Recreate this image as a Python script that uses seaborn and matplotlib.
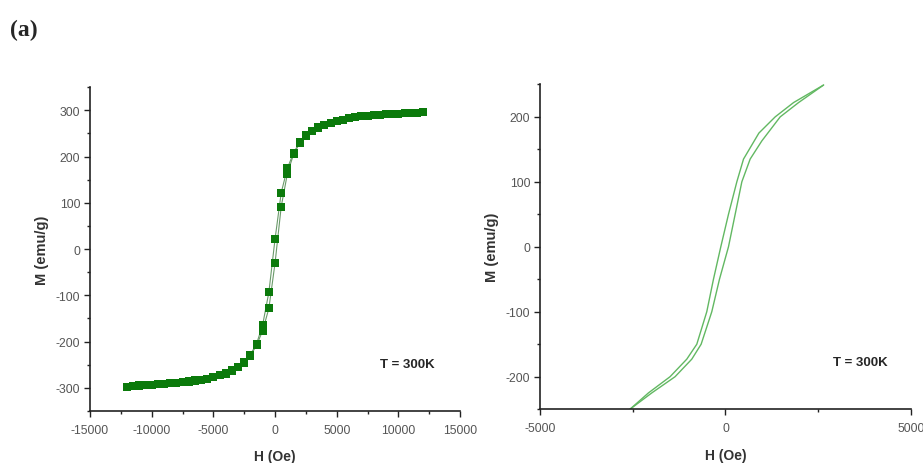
import numpy as np
import pandas as pd
import matplotlib.pyplot as plt
from matplotlib.ticker import MultipleLocator
import seaborn as sns

# full loop: field sweep (Oe) and magnetisation (emu/g)
h_up = [-12000, -11500, -11000, -10500, -10000, -9500, -9000, -8500, -8000, -7500,
        -7000, -6500, -6000, -5500, -5000, -4500, -4000, -3500, -3000, -2500,
        -2000, -1500, -1000, -500, 0, 500, 1000, 1500, 2000, 2500,
        3000, 3500, 4000, 4500, 5000, 5500, 6000, 6500, 7000, 7500,
        8000, 8500, 9000, 9500, 10000, 10500, 11000, 11500, 12000]
m_up = [-297, -296, -295, -294, -293, -292, -291, -290, -289, -287,
        -286, -284, -282, -280, -277, -273, -269, -263, -255, -246,
        -230, -208, -176, -128, -30, 92, 163, 205, 229, 244,
        255, 262, 268, 273, 277, 280, 283, 285, 287, 288,
        289, 290, 291, 292, 293, 294, 294, 295, 296]

h_down = [12000, 11500, 11000, 10500, 10000, 9500, 9000, 8500, 8000, 7500,
          7000, 6500, 6000, 5500, 5000, 4500, 4000, 3500, 3000, 2500,
          2000, 1500, 1000, 500, 0, -500, -1000, -1500, -2000, -2500,
          -3000, -3500, -4000, -4500, -5000, -5500, -6000, -6500, -7000, -7500,
          -8000, -8500, -9000, -9500, -10000, -10500, -11000, -11500, -12000]
m_down = [296, 295, 294, 294, 293, 292, 291, 290, 289, 288,
          287, 285, 283, 280, 277, 273, 269, 263, 255, 246,
          231, 208, 175, 122, 22, -93, -163, -205, -228, -243,
          -254, -262, -268, -273, -277, -280, -283, -285, -287, -288,
          -289, -290, -291, -292, -293, -294, -294, -295, -297]

# low-field loop
hz_up = [-2572, -1987, -1358, -908, -656, -369, -162, 81, 261, 441,
         665, 980, 1475, 1970, 2644]
mz_up = [-250, -225, -200, -173, -150, -100, -50, 0, 50, 100,
         135, 163, 200, 222, 249]
hz_down = [2644, 1835, 1340, 900, 486, 306, 81, -126, -324, -504,
           -773, -1043, -1493, -2077, -2572]
mz_down = [249, 222, 200, 175, 135, 100, 50, 0, -50, -100,
           -150, -173, -200, -225, -250]

up = pd.DataFrame({'H': h_up, 'M': m_up})
down = pd.DataFrame({'H': h_down, 'M': m_down})
zup = pd.DataFrame({'H': hz_up, 'M': mz_up})
zdown = pd.DataFrame({'H': hz_down, 'M': mz_down})

sns.set_theme(style="ticks")
plt.rcParams['font.family'] = ['Liberation Sans', 'DejaVu Sans']
plt.rcParams['axes.unicode_minus'] = False

fig = plt.figure(figsize=(9.23, 4.64), dpi=100)
ax1 = fig.add_axes([0.0975, 0.112, 0.401, 0.698])
ax2 = fig.add_axes([0.585, 0.116, 0.402, 0.700])

dark_green = '#0b7a0b'
light_green = '#62b862'

# left: full loop with square markers
for d in (up, down):
    sns.lineplot(data=d, x='H', y='M', sort=False, ax=ax1, color='#6a9a6a', linewidth=0.8)
    sns.scatterplot(data=d, x='H', y='M', ax=ax1, marker='s', s=38, color=dark_green,
                    edgecolor=dark_green, linewidth=0, zorder=3)
ax1.set_xlim(-15000, 15000)
ax1.set_ylim(-350, 350)
ax1.xaxis.set_major_locator(MultipleLocator(5000))
ax1.xaxis.set_minor_locator(MultipleLocator(2500))
ax1.yaxis.set_major_locator(MultipleLocator(100))
ax1.yaxis.set_minor_locator(MultipleLocator(50))
ax1.text(10700, -248, 'T = 300K', fontsize=9.5, fontweight='bold', ha='center', va='center')

# right: low-field zoom, line only
for d in (zup, zdown):
    sns.lineplot(data=d, x='H', y='M', sort=False, ax=ax2, color=light_green, linewidth=1.0)
ax2.set_xlim(-5000, 5000)
ax2.set_ylim(-250, 250)
ax2.xaxis.set_major_locator(MultipleLocator(5000))
ax2.xaxis.set_minor_locator(MultipleLocator(2500))
ax2.yaxis.set_major_locator(MultipleLocator(100))
ax2.yaxis.set_minor_locator(MultipleLocator(50))
ax2.text(3625, -178, 'T = 300K', fontsize=9.5, fontweight='bold', ha='center', va='center')

for ax in (ax1, ax2):
    sns.despine(ax=ax)
    ax.spines['left'].set_linewidth(1.2)
    ax.spines['bottom'].set_linewidth(1.2)
    ax.spines['left'].set_color('#222222')
    ax.spines['bottom'].set_color('#222222')
    ax.tick_params(which='major', direction='out', length=4, width=1, colors='#222222',
                   labelsize=8.8, labelcolor='#555555', pad=3)
    ax.tick_params(axis='x', which='major', pad=5)
    ax.tick_params(which='minor', direction='out', length=2.5, width=1, colors='#222222')
    ax.set_xlabel('H (Oe)', fontsize=10, fontweight='bold', color='#333333', labelpad=10)
    ax.set_ylabel('M (emu/g)', fontsize=10.5, fontweight='bold', color='#333333', labelpad=5)

fig.text(0.011, 0.935, '(a)', fontsize=17, fontweight='bold', family='Liberation Serif',
         ha='left', va='center')

fig.savefig('out.png', dpi=100)
